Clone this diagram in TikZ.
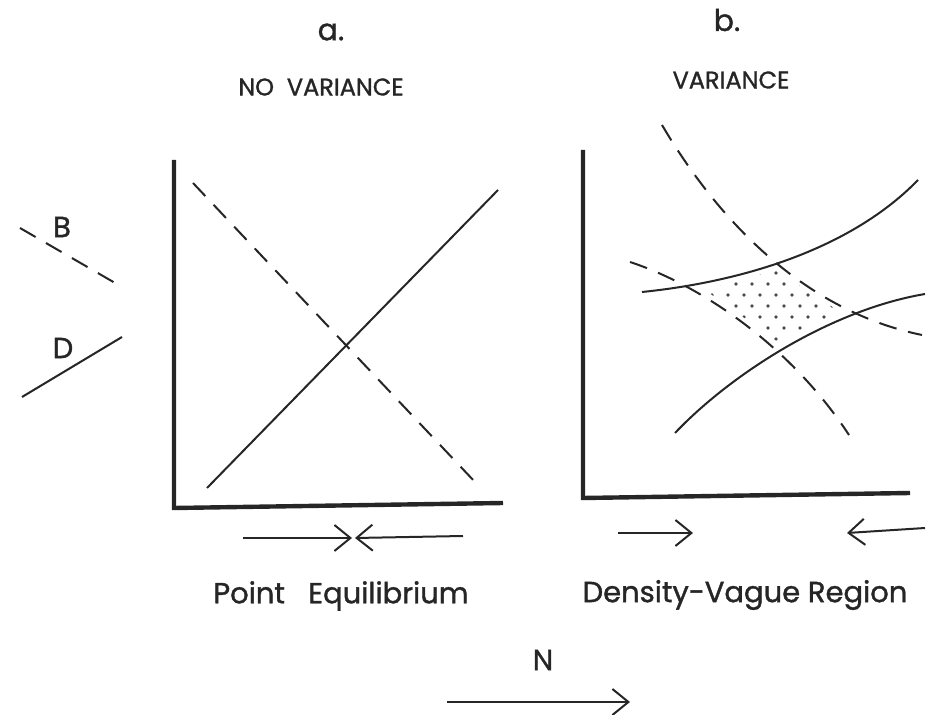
\documentclass[tikz,border=0pt]{standalone}
\usepackage{fontspec}
\setmainfont{Poppins}[FakeBold=1.2]
\usetikzlibrary{arrows.meta}
\tikzset{
    % Axis style
    axisline/.style={
        line width=2.2pt,
        draw=black!85
    },
    % Solid curve (D)
    dcurve/.style={
        line width=1pt,
        draw=black!85
    },
    % Dashed curve (B)
    bcurve/.style={
        line width=1pt,
        draw=black!85,
        dash pattern=on 9pt off 6pt
    },
    % Open arrow
    dirarrow/.style={
        -{Straight Barb[length=8pt,width=13pt]},
        line width=1pt,
        draw=black!85
    },
    % Letters a. and b.
    titlelabel/.style={
        font=\fontsize{15}{17}\selectfont,
        text=black!85,
        inner sep=0pt
    },
    % Variance headers
    headlabel/.style={
        font=\fontsize{12}{14}\selectfont,
        text=black!85,
        inner sep=0pt
    },
    % Captions and legend letters
    caption/.style={
        font=\fontsize{14.5}{17}\selectfont,
        text=black!85,
        inner sep=0pt
    },
    % Stipple dot
    stipple/.style={
        fill=black!70
    }
}
\begin{document}
\begin{tikzpicture}[x=0.5pt,y=-0.5pt]
    \useasboundingbox (0,0) rectangle (930,715);
    % headers
    \node[titlelabel] (ta) at (331,32) {a.};
    \node[titlelabel] (tb) at (727,20) {b.};
    \node[headlabel] (ha) at (321,87) {NO\ \ VARIANCE};
    \node[headlabel] (hb) at (731,80) {VARIANCE};
    % legend
    \node[caption] (lb) at (62,227) {B};
    \node[caption] (ld) at (63,348) {D};
    \draw[bcurve] (20,228) -- (122,287);
    \draw[dcurve] (22,397) -- (122,337);
    % panel a
    \draw[axisline] (174,160) -- (174,508) -- (503,503);
    \draw[dcurve] (207,488) -- (498,190);
    \draw[bcurve] (193,183) -- (475,482);
    \draw[dirarrow] (243,538) -- (352,538);
    \draw[dirarrow] (463,536) -- (355,538);
    \node[caption] (pe) at (341,596) {Point\ \ \ Equilibrium};
    % panel b
    \draw[axisline] (583,150) -- (583,498) -- (910,493);
    \begin{scope}
        \clip (705,290) -- (776,270) -- (840,312) -- (778,342) -- cycle;
        \foreach \i in {0,...,11}
            \foreach \j in {0,...,8}
                \fill[stipple] ({688+16*\i+8*mod(\j,2)},{262+11*\j}) circle (1.9);
    \end{scope}
    \draw[dcurve] (642,292) .. controls (740,282) and (850,250) .. (918,180);
    \draw[dcurve] (675,433) .. controls (730,375) and (830,310) .. (925,294);
    \draw[bcurve] (662,125) .. controls (715,215) and (800,310) .. (922,335);
    \draw[bcurve] (630,262) .. controls (700,285) and (790,345) .. (849,435);
    \draw[dirarrow] (618,533) -- (693,533);
    \draw[dirarrow] (925,528) -- (847,533);
    \node[caption] (dv) at (745,595) {Density-Vague Region};
    % axis label
    \node[caption] (n) at (543,660) {N};
    \draw[dirarrow] (447,702) -- (630,702);
\end{tikzpicture}
\end{document}
